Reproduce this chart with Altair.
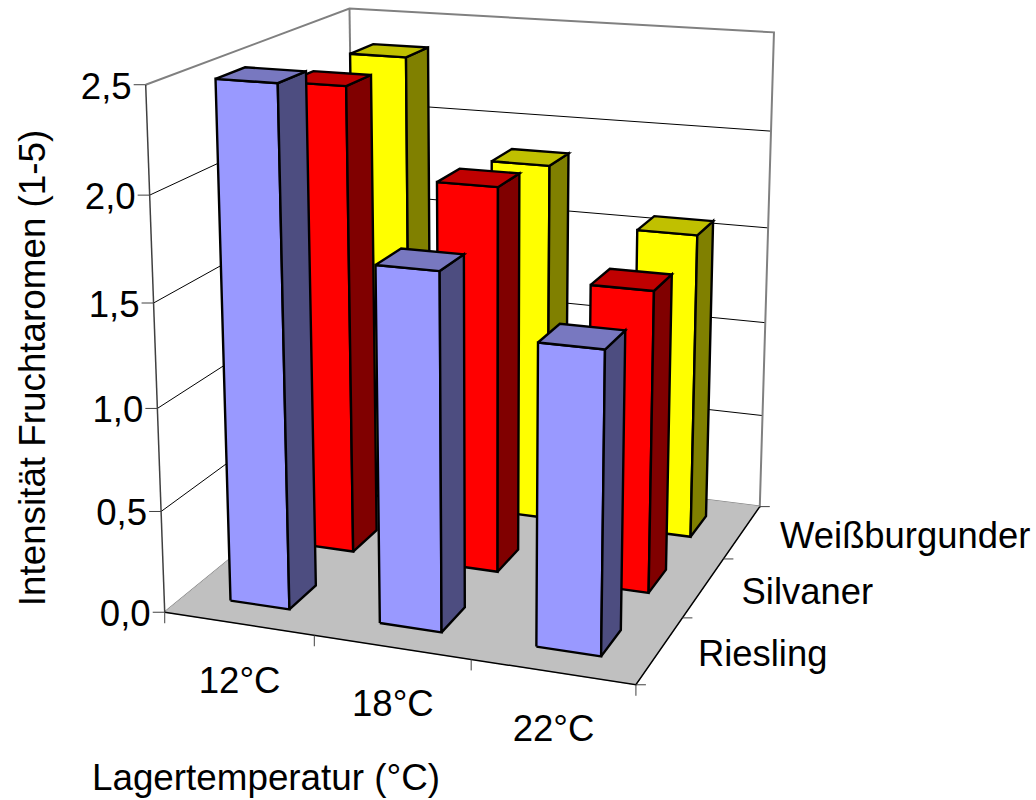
import altair as alt
import numpy as np
import pandas as pd

temps = ["12°C", "18°C", "22°C"]
wines = ["Riesling", "Silvaner", "Weißburgunder"]
riesling = [2.5, 1.71, 1.43]
silvaner = [2.35, 1.92, 1.49]
weissburgunder = [2.36, 1.86, 1.57]
value_ticks = [0.0, 0.5, 1.0, 1.5, 2.0, 2.5]
front_colors = ["#9999FF", "#FF0000", "#FFFF00"]
side_colors = ["#4D4D80", "#800000", "#808000"]
top_colors = ["#7878C0", "#C00000", "#C0C000"]

# Camera fitted from where box and bar corners land on the page.
model_pts = [
    (0, 0, 0), (0, 0, 0), (3, 0, 0), (3, 0, 3), (0, 2.5, 0), (0, 2.5, 3), (3, 2.5, 3),
    (0.3, 0, 0.3), (0.7, 0, 0.3), (1.3, 0, 0.3), (1.7, 0, 0.3), (2.3, 0, 0.3), (2.7, 0, 0.3),
    (0.7, 0, 1.3), (1.7, 0, 1.3), (2.7, 0, 1.3), (2.7, 0, 2.3),
    (0.3, 2.5, 0.3), (0.7, 2.5, 0.3), (1.3, 1.71, 0.3), (2.3, 1.43, 0.3),
    (0.7, 2.36, 2.3), (2.7, 1.57, 2.3),
]
page_pts = [
    (166, 612), (166, 612), (636, 684), (760, 507), (145, 84), (349, 8), (773, 32),
    (229, 601), (289, 609), (378, 623), (442, 633), (536, 647), (601, 657),
    (352, 552), (499, 571), (648, 593), (691, 536),
    (216, 78), (277, 84), (377, 265), (538, 343),
    (407, 59), (698, 235),
]
rows = []
for (a, b, c), (u, v) in zip(model_pts, page_pts):
    rows.append([a, b, c, 1, 0, 0, 0, 0, -u * a, -u * b, -u * c, -u])
    rows.append([0, 0, 0, 0, a, b, c, 1, -v * a, -v * b, -v * c, -v])
camera = np.linalg.svd(np.array(rows, float))[2][-1].reshape(3, 4)


def project(a, b, c):
    h = camera @ np.array([a, b, c, 1.0])
    return h[0] / h[2], h[1] / h[2]


def poly_rows(name, corners, fill):
    out = []
    for k, corner in enumerate(list(corners) + [corners[0]]):
        px, py = project(*corner)
        out.append({"face": name, "k": k, "px": px, "py": py, "fill": fill})
    return out


def segs(pairs):
    out = []
    for n, pts in enumerate(pairs):
        for k, (px, py) in enumerate(pts):
            out.append({"seg": n, "k": k, "px": px, "py": py})
    return pd.DataFrame(out)


X = alt.X("px:Q", scale=alt.Scale(domain=[0, 1036], range=[0, 1036]), axis=None)
Y = alt.Y("py:Q", scale=alt.Scale(domain=[0, 800], range=[0, 800]), axis=None)


def lines(pairs, color, width):
    return alt.Chart(segs(pairs)).mark_line(
        color=color, strokeWidth=width, strokeJoin="miter"
    ).encode(x=X, y=Y, detail="seg:N", order="k:Q")


def labels(rows_, size, align="center", angle=0):
    return alt.Chart(pd.DataFrame(rows_)).mark_text(
        font="Liberation Sans", fontSize=size, align=align, baseline="middle", angle=angle, color="#000000"
    ).encode(x=X, y=Y, text="t:N")


series = [riesling, silvaner, weissburgunder]
bar_w, gap = 0.4, 0.3
faces = []
# Back row first, left to right, so nearer bars cover farther ones.
for s in (2, 1, 0):
    for c in range(3):
        h = series[s][c]
        x0, x1 = c + gap, c + gap + bar_w
        z0, z1 = s + gap, s + gap + bar_w
        tag = f"{s}-{c}"
        faces += poly_rows(tag + "f", [(x0, 0, z0), (x1, 0, z0), (x1, h, z0), (x0, h, z0)], front_colors[s])
        faces += poly_rows(tag + "s", [(x1, 0, z0), (x1, 0, z1), (x1, h, z1), (x1, h, z0)], side_colors[s])
        faces += poly_rows(tag + "t", [(x0, h, z0), (x1, h, z0), (x1, h, z1), (x0, h, z1)], top_colors[s])

bars = alt.Chart(pd.DataFrame(faces)).mark_line(
    stroke="#000000", strokeWidth=2.4, strokeJoin="miter"
).encode(x=X, y=Y, detail="face:N", order="k:Q", fill=alt.Fill("fill:N", scale=None))

floor = alt.Chart(pd.DataFrame(poly_rows("floor", [(0, 0, 0), (3, 0, 0), (3, 0, 3), (0, 0, 3)], "#C0C0C0"))).mark_line(
    stroke="#C0C0C0", strokeWidth=1
).encode(x=X, y=Y, detail="face:N", order="k:Q", fill=alt.Fill("fill:N", scale=None))

grid = lines(
    [[project(0, v, 0), project(0, v, 3), project(3, v, 3)] for v in value_ticks[1:-1]], "#000000", 1
)
frame = lines(
    [
        [project(0, 2.5, 0), project(0, 2.5, 3), project(3, 2.5, 3), project(3, 0, 3), project(0, 0, 3), project(0, 0, 0)],
        [project(0, 2.5, 3), project(0, 0, 3)],
    ],
    "#808080",
    2,
)
edges = lines([[project(0, 0, 0), project(3, 0, 0), project(3, 0, 3)]], "#000000", 1.5)
axis_line = lines([[project(0, 0, 0), project(0, 2.5, 0)]], "#404040", 1.5)


def off(p, dx, dy):
    return (p[0] + dx, p[1] + dy)


ticks = lines(
    [[project(0, v, 0), off(project(0, v, 0), -12, 0)] for v in value_ticks]
    + [[project(c, 0, 0), off(project(c, 0, 0), 0, 11)] for c in range(4)]
    + [[project(3, 0, z), off(project(3, 0, z), 10, 0)] for z in range(4)],
    "#404040",
    1,
)

value_text = labels(
    [
        {"t": f"{v:.1f}".replace(".", ","), "px": project(0, v, 0)[0] - 14, "py": project(0, v, 0)[1] + 3}
        for v in value_ticks
    ],
    36.6,
    "right",
)
temp_text = labels(
    [{"t": t, "px": project(i + 0.5, 0, 0)[0] + 1, "py": project(i + 0.5, 0, 0)[1] + 58} for i, t in enumerate(temps)],
    36.6,
)
wine_text = labels(
    [{"t": t, "px": project(3, 0, i + 0.5)[0] + 38, "py": project(3, 0, i + 0.5)[1] + 5} for i, t in enumerate(wines)],
    36.4,
    "left",
)
x_title = labels([{"t": "Lagertemperatur (°C)", "px": 266, "py": 779}], 36.8)
y_title = labels([{"t": "Intensität Fruchtaromen (1-5)", "px": 34, "py": 368}], 36.8, "center", 270)

chart = alt.layer(
    grid, frame, floor, edges, axis_line, ticks, bars, value_text, temp_text, wine_text, x_title, y_title
).properties(width=1036, height=800, padding=0, autosize=alt.AutoSizeParams(type="none")).configure_view(stroke=None)

chart.save("out.html", embed_options={"renderer": "svg", "actions": False})
